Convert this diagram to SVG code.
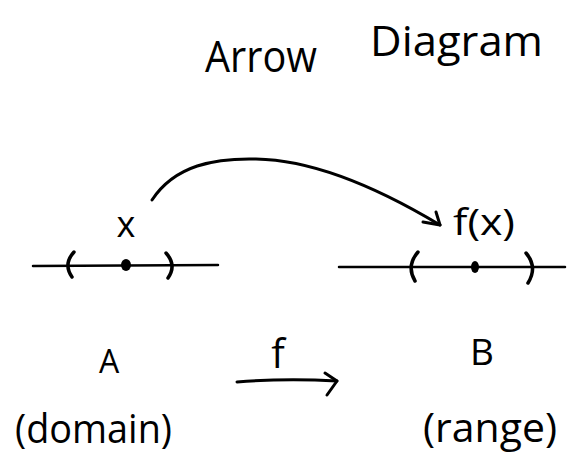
<svg xmlns="http://www.w3.org/2000/svg" width="573" height="465" viewBox="0 0 573 465">
  <style>
    .t { font-family: "Open Sans", "Liberation Sans", sans-serif; fill: #000; }
    .ln { fill: none; stroke: #000; stroke-width: 2.5; stroke-linecap: round; }
    .pr { fill: none; stroke: #000; stroke-width: 3.5; stroke-linecap: round; }
    .ar { fill: none; stroke: #000; stroke-width: 3; stroke-linecap: round; stroke-linejoin: round; }
  </style>
  <rect width="573" height="465" fill="#fff"/>

  <g id="title">
    <text class="t" x="205" y="72" font-size="44" textLength="112" lengthAdjust="spacingAndGlyphs">Arrow</text>
    <text class="t" x="370" y="56" font-size="42" textLength="173" lengthAdjust="spacingAndGlyphs">Diagram</text>
  </g>

  <g id="lineA">
    <path class="ln" d="M 33 266 L 218 265"/>
    <path class="pr" d="M 74 252 Q 63 264 72 277"/>
    <path class="pr" d="M 166 253 Q 177 265 168 278"/>
    <ellipse cx="126" cy="265" rx="5" ry="6" fill="#000"/>
    <text class="t" x="126" y="237" font-size="36" text-anchor="middle">x</text>
  </g>

  <g id="lineB">
    <path class="ln" d="M 339 267 L 565 267"/>
    <path class="pr" d="M 418 252 Q 406 266 415 281"/>
    <path class="pr" d="M 526 253 Q 538 267 528 283"/>
    <ellipse cx="475" cy="267" rx="4" ry="6" fill="#000"/>
    <text class="t" x="453" y="235" font-size="36" textLength="62" lengthAdjust="spacingAndGlyphs">f(x)</text>
  </g>

  <g id="setA">
    <text class="t" x="109" y="373" font-size="32" text-anchor="middle">A</text>
    <text class="t" x="15" y="443" font-size="40" textLength="157" lengthAdjust="spacingAndGlyphs">(domain)</text>
  </g>

  <g id="setB">
    <text class="t" x="482" y="365" font-size="37" text-anchor="middle">B</text>
    <text class="t" x="423" y="442" font-size="40" textLength="134" lengthAdjust="spacingAndGlyphs">(range)</text>
  </g>

  <g id="connectors">
    <path class="ar" d="M 152 200 C 175 165, 215 158, 256 159 C 320 160, 390 195, 440 225"/>
    <path class="ar" d="M 423 222 L 440 225 L 436 212"/>
    <path class="ar" d="M 237 382 Q 285 378 337 381"/>
    <path class="ar" d="M 325 373 L 337 381 L 327 395"/>
    <text class="t" x="278" y="368" font-size="40" text-anchor="middle">f</text>
  </g>
</svg>
